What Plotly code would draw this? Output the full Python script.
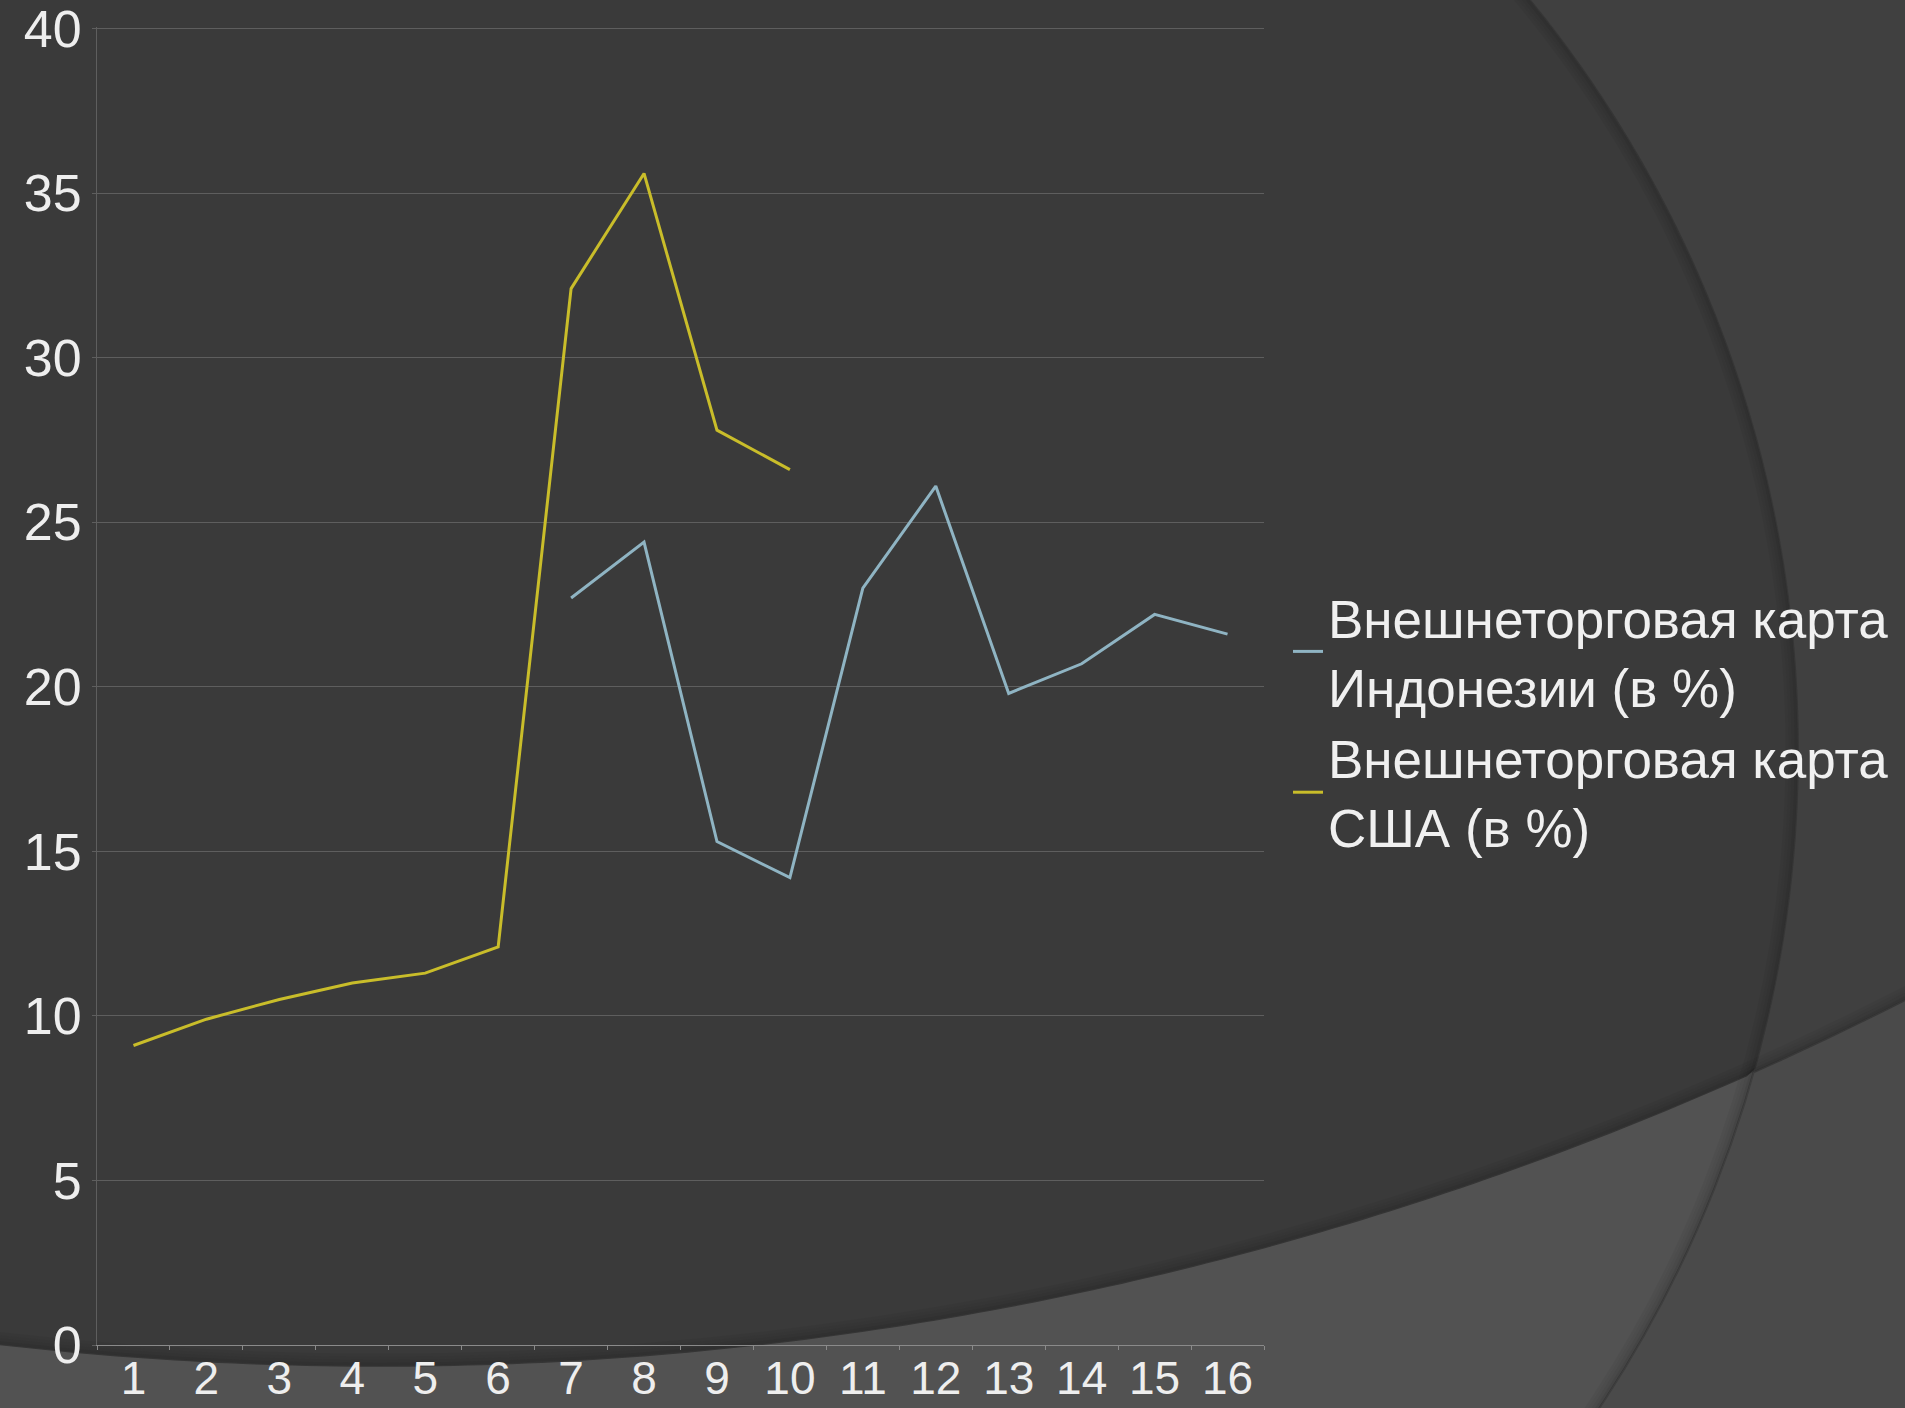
import numpy as np
import plotly.graph_objects as go

# ---- data ----
categories = [str(i) for i in range(1, 17)]
indonesia = [None, None, None, None, None, None,
             22.7, 24.4, 15.3, 14.2, 23.0, 26.1, 19.8, 20.7, 22.2, 21.6]
usa = [9.1, 9.9, 10.5, 11.0, 11.3, 12.1, 32.1, 35.6, 27.8, 26.6,
       None, None, None, None, None, None]
name_indonesia = "Внешнеторговая карта<br>Индонезии (в %)"
name_usa = "Внешнеторговая карта<br>США (в %)"
y_ticks = [0, 5, 10, 15, 20, 25, 30, 35, 40]

# ---- geometry (pixels) ----
W, H = 1905, 1408
L, R, T, B = 97, 1264, 27, 1345
PW, PH = R - L, B - T


def px2paper(x, y):
    return (x - L) / PW, (B - y) / PH


# background circles (pixel centre, radius)
c1 = (612.0, 751.0, 1186.0)
c2 = (380.0, -1994.0, 3360.0)


def circle_shape(c, fill, line, r_off=0.0, width=2):
    cx, cy, r = c
    r = r - r_off
    x0, y0 = px2paper(cx - r, cy + r)
    x1, y1 = px2paper(cx + r, cy - r)
    return dict(type="circle", xref="paper", yref="paper", x0=x0, y0=y0,
                x1=x1, y1=y1, fillcolor=fill, line=dict(color=line, width=width),
                layer="below")


def intersection_path(a, b):
    pts = []
    t = np.linspace(0, 2 * np.pi, 1440, endpoint=False)
    for (c, o) in ((a, b), (b, a)):
        xs = c[0] + c[2] * np.cos(t)
        ys = c[1] + c[2] * np.sin(t)
        inside = (xs - o[0]) ** 2 + (ys - o[1]) ** 2 <= o[2] ** 2
        pts += list(zip(xs[inside], ys[inside]))
    px0, py0 = a[0], a[1]
    pts.sort(key=lambda p: np.arctan2(p[1] - py0, p[0] - px0))
    segs = []
    for i, (x, y) in enumerate(pts):
        u, v = px2paper(x, y)
        segs.append(("M" if i == 0 else "L") + f"{u:.5f},{v:.5f}")
    return " ".join(segs) + " Z"


shapes = [
    circle_shape(c2, "#404040", "#383838"),
    circle_shape(c1, "#525252", "#3e3e3e"),
    dict(type="path", xref="paper", yref="paper", path=intersection_path(c1, c2),
         fillcolor="#3a3a3a", line=dict(color="#353535", width=1.5), layer="below"),
]
# soft inner shadows along both arcs
for k, a in enumerate([0.16, 0.11, 0.07, 0.04]):
    for c in (c1, c2):
        shapes.append(circle_shape(c, "rgba(0,0,0,0)", f"rgba(0,0,0,{a})",
                                   r_off=2 + 3 * k, width=3))

font_family = "Liberation Sans, Arial, sans-serif"

fig = go.Figure()
fig.add_trace(go.Scatter(x=categories, y=indonesia, name=name_indonesia,
                         mode="lines", line=dict(color="#8fb4c3", width=3),
                         connectgaps=False))
fig.add_trace(go.Scatter(x=categories, y=usa, name=name_usa,
                         mode="lines", line=dict(color="#c9bd2a", width=3),
                         connectgaps=False))

fig.update_layout(
    width=W, height=H,
    margin=dict(l=L, r=W - R, t=T, b=H - B, pad=0, autoexpand=False),
    paper_bgcolor="#4a4a4a",
    plot_bgcolor="rgba(0,0,0,0)",
    shapes=shapes,
    font=dict(family=font_family, color="#eeeeee"),
    showlegend=True,
    legend=dict(x=(1288 - L) / PW, xanchor="left", y=(B - 722) / PH,
                yanchor="middle", bgcolor="rgba(0,0,0,0)",
                font=dict(size=53, color="#f0f0f0", family=font_family),
                itemwidth=30, tracegroupgap=0),
    xaxis=dict(type="category", categoryorder="array", categoryarray=categories,
               range=[-0.5, 15.5], showgrid=False, zeroline=False,
               automargin=False,
               showline=True, linecolor="#8a8a8a", linewidth=1,
               ticks="outside", tickson="boundaries", ticklen=4,
               tickcolor="#8a8a8a", tickwidth=1, ticklabelstandoff=-7,
               tickfont=dict(size=46, color="#eeeeee")),
    yaxis=dict(range=[0, 40.05], tickvals=y_ticks, showgrid=True,
               automargin=False,
               gridcolor="#5e5e5e", gridwidth=1, zeroline=False,
               showline=True, linecolor="#5e5e5e", linewidth=1,
               ticks="outside", ticklen=4, tickcolor="#5e5e5e",
               ticklabeloverflow="allow",
               tickfont=dict(size=52, color="#eeeeee")),
)

fig.write_html("out.html",
               config={"displayModeBar": False},
               post_script="document.body.style.margin='0';"
                           "document.body.style.overflow='hidden';")
